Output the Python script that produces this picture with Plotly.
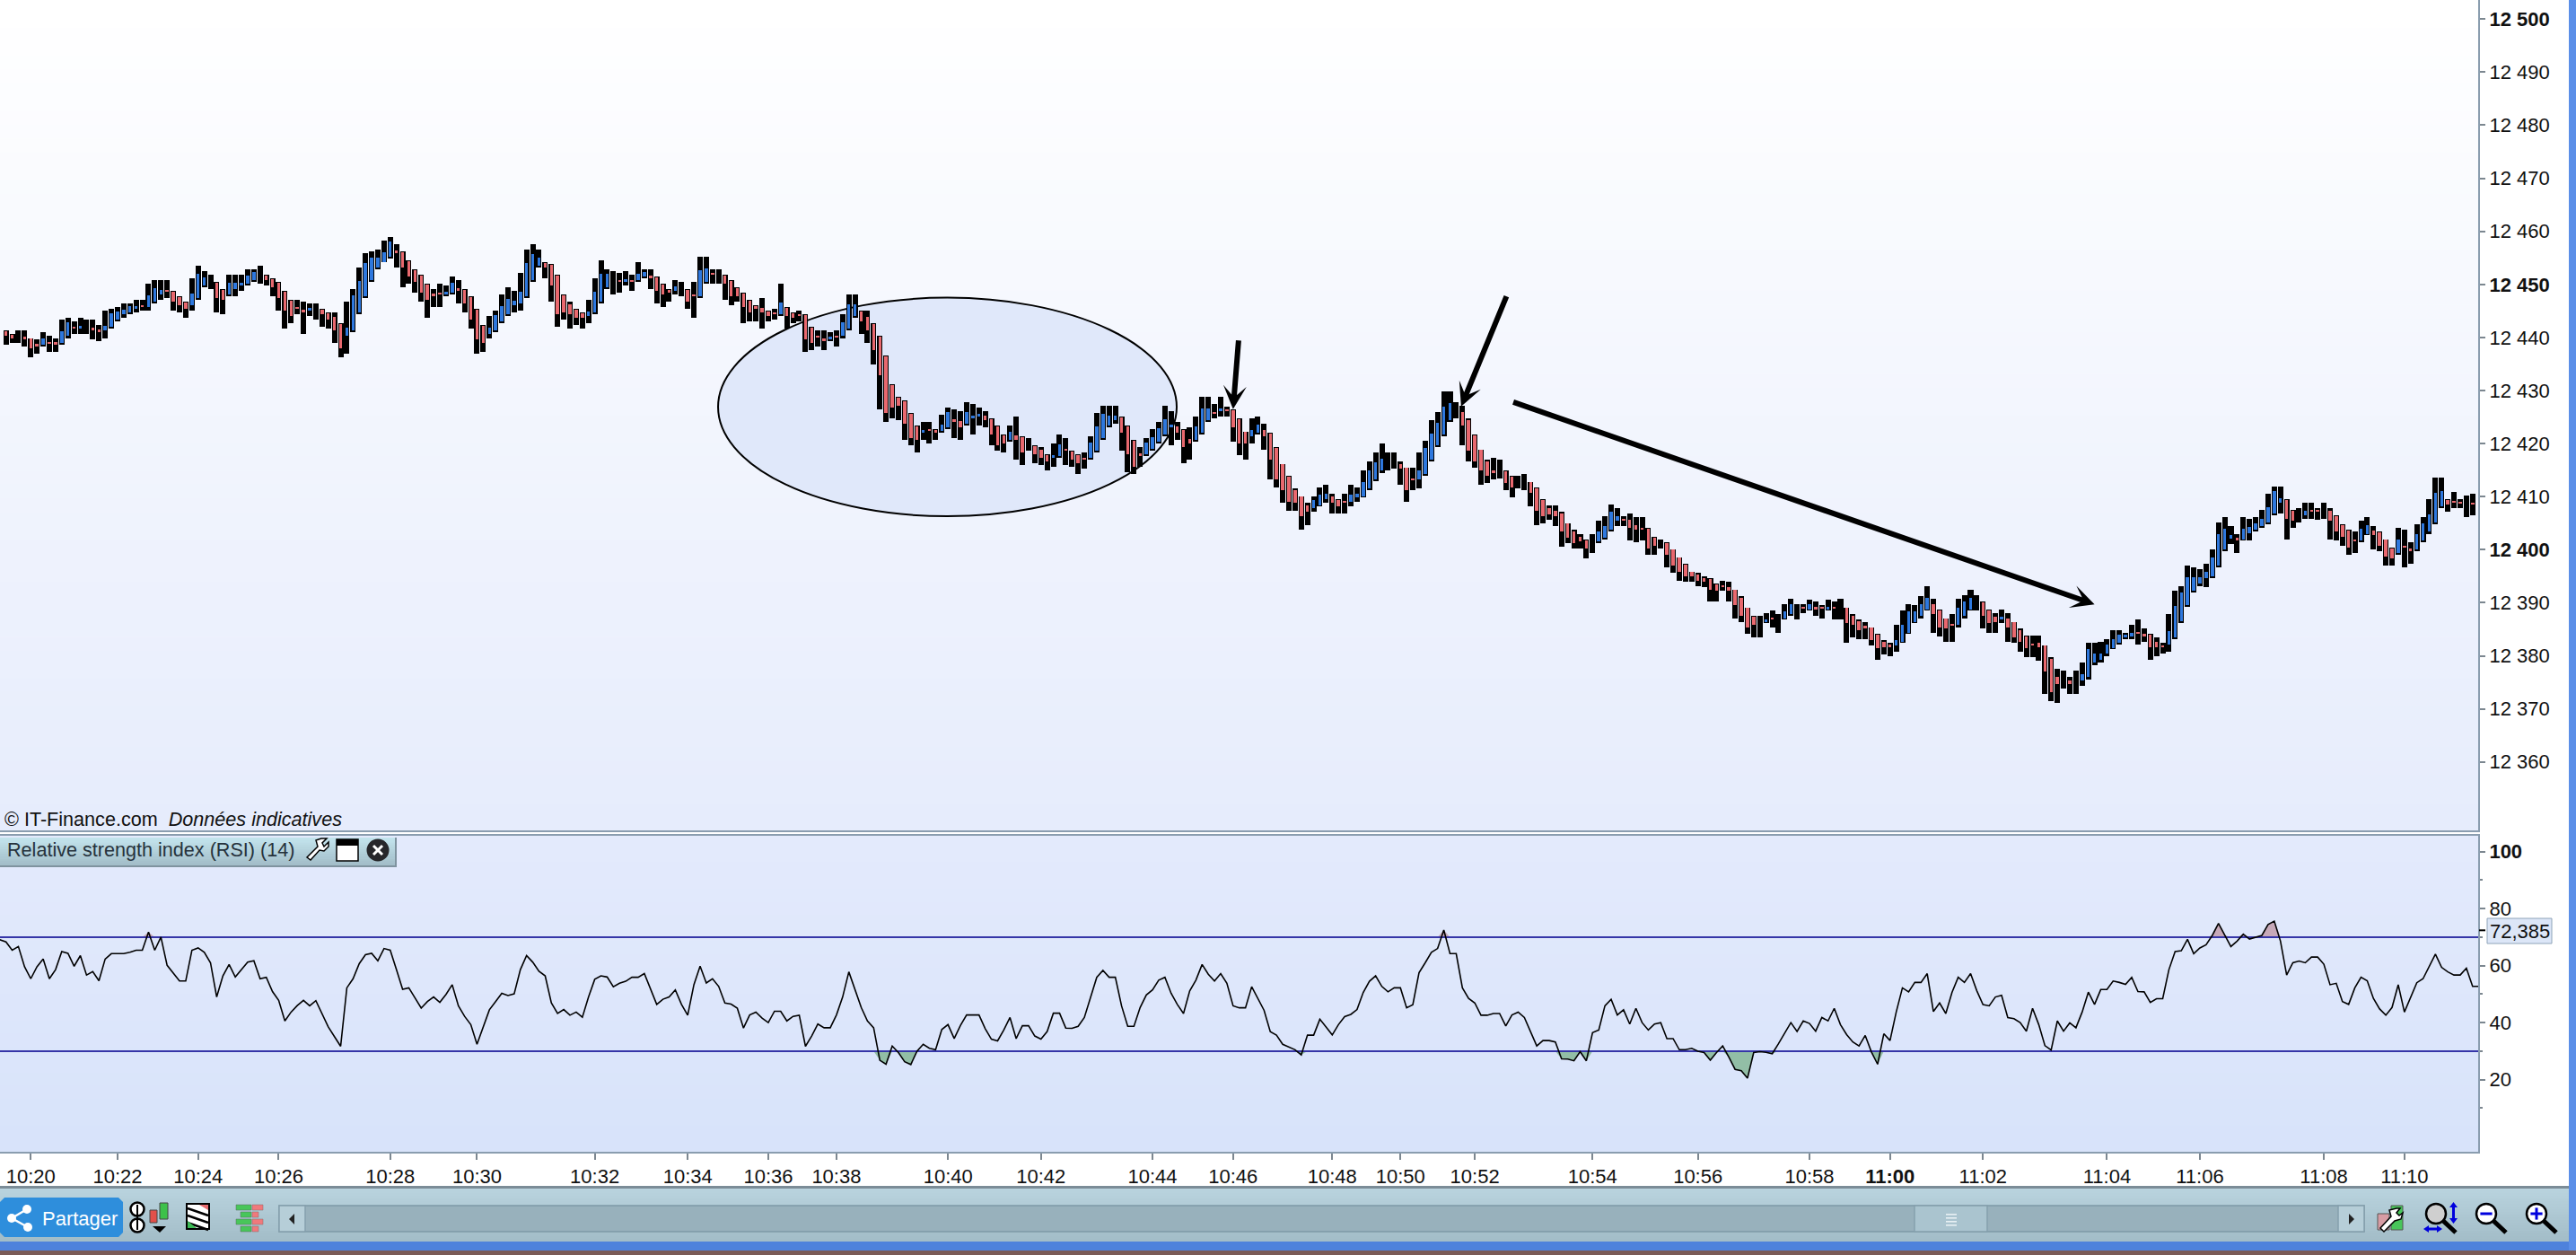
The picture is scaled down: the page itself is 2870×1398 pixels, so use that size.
"""Intraday price chart with RSI pane, redrawn from a screenshot."""
import numpy as np
import plotly.graph_objects as go
from plotly.subplots import make_subplots

W, H = 2870, 1398
BASE = 12400

# prices are stored as points above/below BASE
bar_high = [
    41.3,40.6,41.3,41.3,39.9,39.6,41,40.3,39.9,43.3, 43.7,43,43.7,43.3,43.3,42.3,45,45.4,45.7,46.4,
    46.4,47.1,47.1,50.1,50.8,50.8,50.8,48.8,47.7,46.7, 51.1,53.5,52.5,51.8,50.5,49.1,51.8,51.8,51.8,52.8,
    52.8,53.5,51.8,51.1,50.5,48.8,47.1,47.1,46.7,46.4, 46.4,45.4,44.7,44.7,42.7,46.7,49.1,53.2,55.9,56.2,
    56.6,58.3,58.9,57.6,56.2,54.5,52.8,51.8,50.1,49.1, 50.1,49.8,51.5,50.8,49.1,47.7,45.4,42.3,44,45,
    48.1,49.4,48.8,52.2,56.6,57.6,56.6,54.2,53.8,51.8, 48.1,46.7,45.4,44.7,47.1,51.1,54.5,52.8,52.5,52.2,
    52.5,51.8,54.2,52.8,52.8,51.5,50.1,49.1,50.8,50.5, 49.1,50.5,55.2,55.2,52.8,52.8,51.8,50.8,49.4,48.4,
    47.1,46.1,47.4,45,45.4,50.1,45.7,44.7,45,44.4, 42,41.3,41.3,41,41.3,44.4,48.1,48.1,45,45,
    42.7,40.3,36.6,31.2,28.8,28.1,25.8,23.4,24.1,24.1, 22.7,25.4,26.8,26.4,26.1,27.8,27.5,26.8,26.1,24.8,
    23.4,21.7,23.4,25.1,21.4,21,19.7,19.3,18,20, 21.7,21,18.6,18,18.3,21.4,25.8,27.1,27.1,27.1,
    25.1,23.4,20.7,19.3,21,22.7,24.1,27.1,26.1,24.1, 22.7,23,25.1,28.8,28.8,27.5,28.8,27,26.4,24.7,
    22.3,24.7,25.1,23.7,22,19.3,16.2,13.9,11.5,10.1, 8.8,10.1,11.8,12.2,10.5,9.5,10.5,12.2,11.8,14.9,
    16.6,18.3,20,18.3,18.3,16.6,15.5,15.5,18.3,20.6, 24.4,26,29.8,29.8,27.8,27.1,24.7,21.7,18.9,16.9,
    17.3,16.9,14.9,13.9,13.9,14.2,12.8,11.8,9.5,8.4, 8.4,7.1,5,3.7,3,2,3,5.4,6.4,8.5,
    7.8,6.4,6.8,6.1,6.1,4.1,2.4,2,1.4,0, -1.4,-2.7,-4.1,-4.4,-5.1,-5.4,-6.4,-5.8,-6.1,-7.5,
    -8.8,-10.9,-12.5,-12.5,-11.9,-11.5,-12.2,-10.2,-9.2,-10.2, -10.2,-9.5,-9.8,-10.5,-9.5,-9.8,-9.2,-10.9,-12.2,-13.2,
    -13.6,-14.6,-15.9,-17,-17.6,-14.2,-11.5,-10.2,-10.5,-8.8, -6.8,-9.2,-11.2,-12.9,-12.2,-9.2,-8.5,-7.5,-8.5,-9.8,
    -11.2,-11.9,-11.2,-11.9,-13.6,-14.9,-16.2,-16.2,-16.2,-18, -20.3,-22.4,-22.7,-24,-22.7,-21.3,-17.6,-17.6,-17.3,-16.9,
    -15.2,-15.2,-15.6,-14.2,-13.2,-14.9,-15.9,-16.6,-17.6,-12.2, -7.8,-6.8,-3,-3.4,-3.7,-2.7,0,5.1,6.1,4.4,
    3,6.1,5.8,6.1,7.5,10.5,11.9,11.9,9.5,7.5, 7.8,8.8,8.8,7.8,8.8,7.8,6.5,4.8,3.8,3.4,
    5.5,6.1,4.4,3.4,2,0.4,4.1,3.8,1.4,4.8, 6.1,9.5,13.6,13.6,9.5,10.9,9.5,10.2,10.5,
]
bar_low = [
    38.6,38.9,38.9,38.3,36.2,36.9,38.3,37.2,37.2,38.6, 39.9,40.6,40.6,40.6,39.6,39.3,39.9,41.6,43,43.7,
    44.4,44.7,45,45,46.4,47.1,47.4,45,44.7,43.7, 45,47.1,49.4,49.1,44.7,44.4,47.7,47.7,48.8,49.8,
    50.5,50.1,49.8,47.7,45,41.6,42.7,44.4,40.6,44, 43.3,42,41.6,38.9,36.2,36.9,41,44.4,47.4,50.5,
    52.8,54.2,54.9,53.2,49.4,50.1,48.4,46.7,43.7,45.7, 45.7,47.7,48.1,46.4,44.7,41.6,36.9,37.2,39.9,41,
    42.7,44,44.7,45,47.4,50.5,53.2,51.1,46.7,42, 43.3,41.6,42.3,41.6,42.7,44.4,46.4,49.1,48.1,48.4,
    49.8,48.8,50.5,51.1,49.1,46.4,45.7,46.7,48.1,47.7, 45.4,43.7,47.4,50.1,50.1,50.1,47.1,46.1,46.7,42.7,
    43,43,41.6,43,43.3,44,41.6,42.7,43,37.2, 37.6,38.3,37.6,39.3,38.3,39.9,41.3,43.7,40.6,38.9,
    34.9,26.4,24.1,24.8,24.4,20.7,19.7,18.3,20.7,20, 20.7,22,22.7,21,20.7,23.4,21.7,23.4,23,19.7,
    18.6,18.3,20.3,17,16,18.7,16.3,16,14.9,15.6, 17.3,16,15.6,14.2,15.3,17,18.3,20.7,23,23.7,
    18.6,14.6,14.2,15.6,17.6,18.6,20,21.4,19.7,20.7, 16.3,17,20.3,21.7,24.1,24.8,25.1,25.1,20.3,17.9,
    16.9,20,21.7,18.9,13.2,11.8,8.8,7.4,7.4,3.7, 4.7,7.1,8.1,8.8,6.8,6.8,6.8,8.1,9.1,9.8,
    11.2,12.9,14.5,14.9,15.2,12.2,9.1,11.2,11.5,13.9, 16.6,19.3,21.3,24,24.7,19.6,16.6,15.5,12.2,12.5,
    13.2,13.5,11.2,9.8,11.5,11.2,8.1,4.7,5,5.7, 4.4,0.6,1.3,0.3,0.3,-1.7,-0.7,1.2,2,3.4,
    4.4,4.4,1.7,1.4,1.7,-1,-1,0.3,-3.4,-4.4, -5.8,-6.1,-6.1,-6.8,-7.1,-9.8,-9.8,-7.8,-9.8,-12.9,
    -13.6,-15.9,-16.6,-16.6,-13.9,-14.6,-15.6,-13.2,-12.5,-13.2, -11.9,-11.5,-12.5,-12.9,-11.5,-13.2,-13.2,-17.6,-16.6,-16.9,
    -16.9,-18,-20.7,-19.7,-20,-19.3,-17.6,-15.9,-13.9,-12.9, -11.5,-15.6,-16.3,-17.3,-17.3,-14.6,-12.9,-11.5,-11.5,-14.9,
    -15.6,-15.6,-13.9,-17.3,-17.6,-19.3,-20.3,-20.3,-21,-27.1, -28.5,-28.8,-26.1,-27.1,-27.1,-25.7,-24.4,-21.7,-21.3,-20,
    -18.8,-17.9,-16.9,-16.9,-17.9,-17.3,-20.7,-20,-19.6,-19.3, -16.9,-13.9,-10.8,-8.1,-6.8,-7.1,-5.4,-3.4,-0.3,1,
    -0.7,1.7,1.7,3.4,4.1,4.8,6.5,6.8,2,4.1, 5.1,5.8,5.8,5.6,5.8,2,1.7,0.7,-1,-0.7,
    1.4,2.7,0,-0.3,-3,-3,-1,-3.4,-2.7,-0.3, 1.4,3,4.8,7.8,7.1,7.8,7.8,6.1,6.5,
]
bar_open = [
    41.1,40.5,40.1,40.1,39.8,38.8,38.6,39.1,39.1,38.9, 40.3,41.9,41.6,41.8,41.8,41.5,41.3,42,43.3,44.4,
    44.7,45.4,46,45.7,46.7,48.1,48.9,48.6,47.6,46.6, 46.1,47.4,49.8,50.5,50.3,48.9,48.1,49.1,49.8,50.1,
    50.8,51.8,51.6,51,50.3,48.6,46.9,45.6,45.2,45, 45,45.2,44.5,43.8,42.5,40.3,41.3,44.7,47.7,50.8,
    53.2,54.2,55.2,56.4,56.1,54.4,52.7,51.6,49.9,48.3, 48.4,48.1,48.4,49.3,48.9,47.6,45.2,42.2,40.6,41.3,
    43,44.4,46.1,46.4,47.7,50.8,53.5,54,53.7,51.6, 47.9,46.2,45.2,44.5,44,44.7,46.7,49.4,50.5,50.7,
    50.5,50.7,50.8,51.5,51.6,51.3,49.9,48.9,48.8,49, 48.9,48,47.7,50.5,52.1,51.5,51.6,50.6,49.3,48.3,
    46.9,45.9,45.5,44.9,44.6,44.4,45.5,44.5,44.3,44.2, 41.8,40.2,39.8,39.6,40.2,40.3,41.6,44,44.9,43.8,
    42.5,40.2,36.4,31,28.6,28,25.6,23.2,22,22.6, 22.5,22.4,23,24.6,24.2,23.7,24.8,25.1,25.3,24.6,
    23.2,21.5,20.7,21.5,21.2,20,19.5,18.8,17.8,17.3, 17.6,18.9,18.5,17.8,17.2,17.3,18.6,21,23.4,24.4,
    24.9,23.2,20.5,18.1,18,19,20.3,21.7,23,23.2, 22.5,20.9,20.7,22,24.4,25.9,26.1,26.4,26.3,24.6,
    22.2,21.3,22,22.5,21.8,19.1,16.1,13.7,11.3,10, 8.3,7.8,8.4,9.5,10,9.3,9.1,9.1,9.8,10.1,
    11.5,13.2,14.9,16.5,16.7,16.1,15.4,13.4,13.2,14.2, 16.9,19.6,21.7,24.4,26,25.9,24.5,21.5,18.8,16.7,
    15,15,14.7,13.7,12.7,12.7,12.7,11.6,9.3,7.9, 7.3,6.9,4.9,3.5,2.5,1.8,1,1.5,2.3,3.7,
    5.4,5.7,5.6,4.6,4.2,3.9,2.2,1.1,1.2,0, -1.5,-2.9,-4.2,-4.6,-5.3,-5.6,-6.6,-6.8,-7,-7.6,
    -9,-11,-12.7,-14.5,-13.6,-12.9,-13.9,-12.9,-12.2,-11.7, -10.9,-11.2,-10.7,-10.9,-11.2,-10.9,-11,-11,-12.4,-13.4,
    -14.4,-14.7,-16.1,-17.4,-17.8,-18,-17.3,-15.6,-13.6,-12.5, -11.2,-10.3,-11.4,-13,-14,-14.2,-12.5,-11.2,-10,-10,
    -11.4,-12.7,-13.2,-13,-13.7,-15.1,-16.4,-17.7,-17.6,-18.1, -20.5,-23.9,-24.4,-24.6,-25,-24.7,-24,-21.3,-20.7,-19.6,
    -18.6,-17.6,-16.6,-16.3,-15.5,-15.8,-16.1,-17.4,-18.1,-17.9, -16.6,-13.5,-10.5,-7.8,-6.4,-5.4,-5.1,-3,0,2.1,
    2.2,2,3.1,3.8,4.4,5.1,6.8,8.8,9.4,7.3, 6.5,6.5,7.4,7.4,7.3,7.3,6.3,4.6,3.6,1.9,
    1.7,3,3.6,3.2,1.9,0.2,-0.7,0.6,0.2,0, 1.7,3.4,5.1,8.1,9.4,9.1,8.9,8.2,8.8,
]
bar_close = [
    40.3,39.8,40.1,39.6,37.9,38.3,39.8,38.9,38.6,41.1, 42.8,41.7,42.2,41.8,41.3,41,42.2,44.5,44.9,45.2,
    45.9,45.9,45.8,47.9,49.3,48.9,48.7,46.7,46.1,45.4, 48.3,52,51.3,50.5,47.4,47.1,50.3,50.3,50.3,51.6,
    52.3,51.8,50.8,49.4,47.4,45,44,45.4,44.7,45.5, 45,44.4,43.3,41.3,37.9,41.8,47.9,50.6,54,55,
    55,56.1,58.1,55.9,53.2,51.5,50.5,48.4,47.1,47.7, 48.2,48.6,50.3,48.8,46.4,43.3,39.6,38.9,41.8,44.2,
    45.9,47.2,46.9,48.6,54,55.7,55,53.2,49.8,44.4, 44.7,44.4,43.7,43.7,44.9,48.6,52,52,50.5,50.5,
    51,50.5,52,52.3,51.1,48.8,48.1,48.4,49.6,49, 46.7,47.8,52.7,53,51.9,51.5,50.1,47.7,47.7,45.7,
    44.7,45.4,44.7,44,44.4,46.6,44,43.7,44.1,39.6, 38.9,40,39.3,40.1,40,42.8,46.2,46.2,43,41.3,
    37.6,32.9,25.8,26.8,27.1,23.7,21,20.7,22.5,22.4, 22,23.6,25.9,24.1,23,26,25.3,25.6,24.4,21.7,
    19.7,20,22.2,20.7,18.3,20,18,17.3,16.6,17.8, 19.8,18.7,17,16.3,17,20.2,23.2,25.6,25.3,25.3,
    22,18,15.6,17.6,20.2,21.2,22.9,24.6,23.6,22, 19.3,20,23.2,26.6,26.6,25.7,26.6,26.2,23,20,
    20,22.5,23.5,21.3,16.9,13.2,11.2,9.1,8.8,6.4, 7.1,9.3,10.3,10.6,8.8,8.1,8.9,10.3,10.5,12.7,
    15,16.4,17.1,16.5,16.7,15.2,11.2,13.2,15,19.1, 21.8,23.9,26.9,27.6,26,23.4,18.6,16.6,14.9,13.9,
    14.5,15,12.5,11.8,12.7,12.7,10.8,7.4,6.4,6.7, 6.4,3.4,2.3,1.3,1.6,0.3,1,3.5,4.5,7.2,
    6.3,5.5,4.1,3.7,3.7,0.3,0.7,1.1,-1,-3, -4.1,-5.1,-5.1,-5.8,-6.1,-7.5,-7.8,-7,-7.8,-10.5,
    -12.5,-14.6,-14.2,-14.5,-13.1,-13.1,-13.9,-11.7,-10.3,-11.7, -11.1,-10.3,-11.2,-11.1,-10.7,-11.1,-11,-13.9,-14.2,-15.2,
    -14.9,-17,-18.6,-18.3,-18.3,-17.1,-14.1,-11.7,-11.7,-10.3, -9,-12.2,-14.6,-14.9,-14.2,-11,-9.7,-9,-10,-12.5,
    -13.9,-13.6,-12.7,-14.6,-16.6,-17.4,-18.6,-17.9,-18.3,-23, -26.8,-25.4,-24.4,-25.4,-25,-23.5,-18.8,-19.5,-19.5,-17.8,
    -16.8,-16.1,-16,-15.6,-15.7,-16.3,-18.3,-18.3,-18.3,-15.4, -10.6,-8,-5.2,-5.2,-5.2,-4.2,-1.5,2.9,3.9,2.7,
    1.7,3.9,4.3,4.9,5.8,8,11,9.7,5.8,5.5, 6.5,7.3,7.2,7.2,7.3,5.4,3.4,2.4,0.4,1.7,
    3.9,4.6,2.7,0.7,-1.3,-1.7,1.9,0.4,-0.3,2.9, 4.9,6.6,10.7,11,8.5,8.9,8.7,8.2,8.6,
]

rsi_line = [
    69.1,68.3,65.4,66.7,59.6,55.4,59.6,62.3,55.4,58.6, 64.9,64.3,59.8,63.5,56.7,57.9,54.7,62.3,64.2,64.2,
    64.2,64.7,65.4,65.4,71.8,65.4,70,60.1,57.3,54.6, 54.6,65.4,66.2,64.7,61,49,56.4,60.4,56,58.6,
    61.2,61.7,55.4,55.9,50.9,47.8,40.6,43.7,46,47.8, 45.9,47.7,43.2,38.5,35.1,31.7,52.2,55.4,60.7,63.8,
    64.3,61.7,66,65.4,58.6,51.7,52.2,48.7,45.1,47.4, 49,47.1,49.9,53.3,45.9,42.2,39.3,32.4,38.5,44.5,
    47.4,50.3,49.5,50.1,58.6,63.5,61.2,58,56.4,46.9, 43.2,44.6,42.6,43.7,41.9,49,55.2,56.4,56,52.6,
    53.8,54.5,55.9,55.9,57.2,51.7,46.4,48.2,49,51.5, 46.4,42.6,53.3,59.8,53.9,55.4,52.7,46.9,46.5,45.1,
    38.1,42.7,43.7,41.6,40,44,44,40.6,42.2,42.6, 31.7,35.3,39.5,38.2,38.2,42.7,49,57.8,51.2,45.3,
    40.6,38.2,26.8,25.4,31.8,
    29.5,26.3,25.3,30,32.4,31,30.5,37.6,39.3,34.4, 39,42.7,42.7,42.7,37.9,34.2,33.6,37.4,41.8,34.4,
    38.9,38.9,35.3,34.2,36.9,43.3,43.3,38.1,38,38.7, 41.8,49,55.9,58.3,55.9,55.9,45.9,38.7,38.7,45.3,
    49.7,51.5,54.9,55.9,50.3,46.4,43.2,51.1,54.9,60.4, 57,54.6,57.2,53.8,45.9,45.2,45.2,52.6,48.5,44.3,
    36.8,35.6,32.4,31.4,30.5,28.7,35.6,35.6,41.2,38.5, 35.7,39.3,42.1,42.9,44.6,50.6,54.5,56.4,52.7,50.8,
    52.2,52.2,45.2,46.3,57.5,61,64.7,66,72.5,64.2, 64.2,52.2,48.5,46.9,42.6,42.6,43.2,43.2,38.8,42.7,
    43.7,41.8,36.9,31.8,33.7,33.7,33.2,27.3,27.2,26.6, 29.8,26.6,36.5,37.4,45.9,48.2,42.7,44.5,39.5,45,
    40,37.4,39.5,40,34.4,34.4,30.5,30.5,31,30, 29.5,26.8,29.5,31.8,27.9,23.6,23.1,20.5,29.5,29.8,
    29.6,29.1,32.6,36.1,40,
    36.9,40.6,39.7,37,41.8,40.6,45,39.3,35.8,33.2, 31.8,35.5,29.7,25.4,36.1,33.7,43.7,52.2,50.8,54.1,
    54.1,57.2,43.9,46.9,43.2,50.6,55.9,54.1,57.2,51.2, 46.3,45.9,49,49.6,41.8,41.4,40,37,45,39.3,
    31.9,30.4,40.6,37,39.9,38.2,43.7,50.7,46.4,51.6, 51.6,54.6,54.1,53.4,55.9,50.9,50.8,47.1,48.4,48.4,
    58.6,64.9,65.2,69.2,64.2,66.2,67.3,70.6,74.8,70.7, 66.7,68.6,71,69.3,70,70.6,74.4,75.6,68.6,56.7,
    61,61.6,61,63,63,60.5,53.3,53.8,47.4,46.4, 52.2,55.9,54.7,48.5,44.8,42.6,45.3,53.3,43.7,49,
    54,55.4,59.6,64,59.4,57.8,56.7,56.7,59.1,52.7, 52.7,
]
rsi_upper = 70
rsi_lower = 30
rsi_cursor = 72.385

time_bar = [5, 19, 32, 45, 63, 77, 96, 111, 124, 135, 153, 168, 186, 199, 215, 226, 238, 257, 274, 292, 305, 320,
            340, 355, 375, 388]
time_text = ["10:20", "10:22", "10:24", "10:26", "10:28", "10:30", "10:32", "10:34", "10:36", "10:38", "10:40",
             "10:42", "10:44", "10:46", "10:48", "10:50", "10:52", "10:54", "10:56", "10:58", "<b>11:00</b>",
             "11:02", "11:04", "11:06", "11:08", "11:10"]
price_ticks = [12360, 12370, 12380, 12390, 12400, 12410, 12420, 12430, 12440, 12450, 12460, 12470, 12480, 12490, 12500]
price_text = ["12 360", "12 370", "12 380", "12 390", "<b>12 400</b>", "12 410", "12 420", "12 430", "12 440",
              "<b>12 450</b>", "12 460", "12 470", "12 480", "12 490", "<b>12 500</b>"]
rsi_ticks = [20, 40, 60, 80, 100]
rsi_text = ["20", "40", "60", "80", "<b>100</b>"]

# drawn annotations: (tip bar, tip price, tail bar, tail price, width)
arrow_marks = [(199, 12426.5, 199.9, 12439.7, 6), (235.8, 12427, 243.2, 12448, 6), (338, 12389.7, 244, 12427.9, 6)]
zone_bars = (115.9, 189.9)
zone_prices = (12406.3, 12447.5)

FONT = "Liberation Sans"
AXIS_LINE = "#8A9DAF"
TICK = "#7C8790"
RED = "#E8686E"
BLUE = "#2E78DE"

high = np.array(bar_high) + BASE
low = np.array(bar_low) + BASE
opens = np.array(bar_open) + BASE
close = np.array(bar_close) + BASE
bars = np.arange(1, len(high) + 1)
rsi = np.array(rsi_line)
rsi_x = np.arange(len(rsi))

shapes = []


def px(x):
    return x / W


def py(y):
    return 1 - y / H


def hex_mix(c0, c1, t):
    a = [int(c0[i:i + 2], 16) for i in (1, 3, 5)]
    b = [int(c1[i:i + 2], 16) for i in (1, 3, 5)]
    return "#" + "".join(f"{round(u + (v - u) * t):02x}" for u, v in zip(a, b))


def rect(x0, y0, x1, y1, fill, line=None, lw=1, layer="above"):
    shapes.append(dict(type="rect", xref="paper", yref="paper", x0=px(x0), x1=px(x1), y0=py(y0), y1=py(y1),
                       fillcolor=fill, line=dict(color=line or fill, width=lw if line else 0), layer=layer))


def gradient(x0, y0, x1, y1, c0, c1, steps, layer="above"):
    for k in range(steps):
        ya = y0 + (y1 - y0) * k / steps
        yb = y0 + (y1 - y0) * (k + 1) / steps
        rect(x0, ya, x1, yb + 0.6, hex_mix(c0, c1, k / (steps - 1)), layer=layer)


def circle(cx, cy, r, fill, line=None, lw=1):
    shapes.append(dict(type="circle", xref="paper", yref="paper", x0=px(cx - r), x1=px(cx + r), y0=py(cy + r),
                       y1=py(cy - r), fillcolor=fill, line=dict(color=line or fill, width=lw if line else 0)))


def poly(points, fill=None, line=None, lw=1, closed=True):
    path = "M " + " L ".join(f"{px(a):.5f} {py(b):.5f}" for a, b in points) + (" Z" if closed else "")
    shapes.append(dict(type="path", xref="paper", yref="paper", path=path, fillcolor=fill or "rgba(0,0,0,0)",
                       line=dict(color=line or "rgba(0,0,0,0)", width=lw)))


def magnifier(cx, cy, r, mark=None, fill="#FFFFFF"):
    poly([(cx + r * 0.7, cy + r * 0.7), (cx + 22, cy + 21)], line="#000000", lw=5, closed=False)
    circle(cx, cy, r, fill, "#000000", 2.5)
    if mark:
        rect(cx - r * 0.6, cy - 1.5, cx + r * 0.6, cy + 1.5, "#0000DD")
    if mark == "+":
        rect(cx - 1.5, cy - r * 0.6, cx + 1.5, cy + r * 0.6, "#0000DD")


def chrome():
    # pane backgrounds
    gradient(0, 0, 2761, 925, "#FFFFFF", "#E6ECFC", 60, layer="below")
    gradient(0, 931, 2761, 1283, "#E3EAFC", "#D8E3FA", 24, layer="below")

    # RSI header
    gradient(0, 933, 441, 964, "#C2E3EC", "#A3BEC9", 12)
    rect(0, 964, 441, 966, "#7F939F")
    rect(440, 933, 442, 966, "#7F939F")
    poly([(342, 955), (354, 943), (352, 936), (358, 934), (364, 934), (359, 939), (361, 943), (366, 938), (366, 943),
          (361, 948), (356, 947), (346, 958)], "#FFFFFF", "#000000", 1.5)
    rect(375, 935, 399, 959, "#FFFFFF", "#000000", 1.5)
    rect(375, 935, 399, 942, "#000000")
    circle(421, 947, 12.5, "#26262A")
    poly([(416, 942), (426, 952)], line="#FFFFFF", lw=3, closed=False)
    poly([(426, 942), (416, 952)], line="#FFFFFF", lw=3, closed=False)

    # cursor tick on the RSI scale
    shapes.append(dict(type="line", xref="paper", yref="y2", x0=px(2762), x1=px(2769), y0=rsi_cursor, y1=rsi_cursor,
                       line=dict(color="#000000", width=2)))
    rect(2771, 1023, 2843, 1051, "#DCE6F7", "#8EA3B8", 1)

    # bottom toolbar and window frame
    gradient(0, 1323, 2862, 1383, "#B9D3DE", "#A3BDC8", 20)
    rect(0, 1321, 2862, 1324, "#7B8C97")
    rect(0, 1383, 2870, 1393, "#4E82DC")
    rect(0, 1393, 2870, 1398, "#7A5A56")
    rect(2862, 0, 2870, 1393, "#5B8FE8")

    # scroll bar
    rect(311, 1343, 2634, 1372, "#98B1BC", "#7E99A6", 1.5)
    rect(311, 1343, 340, 1372, "#B6CED8", "#85A0AD", 1.5)
    poly([(322, 1358), (328, 1352), (328, 1364)], "#222222")
    rect(2605, 1343, 2634, 1372, "#B6CED8", "#85A0AD", 1.5)
    poly([(2623, 1358), (2617, 1352), (2617, 1364)], "#222222")
    rect(2133, 1343, 2214, 1372, "#AAC4CF", "#85A0AD", 1.5)
    for y in (1352, 1356, 1360, 1364):
        rect(2168, y, 2180, y + 1.6, "#E8F0F4")

    # share button
    poly([(5, 1334), (132, 1334), (137, 1339), (137, 1373), (132, 1378), (5, 1378), (0, 1373), (0, 1339)], "#2E8EDC")
    poly([(13, 1357), (30, 1347)], line="#FFFFFF", lw=2.5, closed=False)
    poly([(13, 1357), (31, 1367)], line="#FFFFFF", lw=2.5, closed=False)
    circle(13, 1357, 5, "#FFFFFF")
    circle(30, 1347, 5, "#FFFFFF")
    circle(31, 1367, 5, "#FFFFFF")

    # chart type icons
    circle(153, 1347, 7.5, "#FFFFFF", "#000000", 2.5)
    circle(153, 1365, 7.5, "#FFFFFF", "#000000", 2.5)
    rect(152, 1342, 154, 1370, "#000000")
    rect(167, 1348, 175, 1362, "#E2504A", "#444444", 1)
    rect(178, 1340, 187, 1358, "#3DC14A", "#444444", 1)
    poly([(170, 1366), (185, 1366), (178, 1373)], "#000000")
    rect(208, 1341, 233, 1369, "#FFFFFF", "#000000", 2)
    for k in (0, 8, 16):
        poly([(209, 1346 + k), (232, 1354 + k)], line="#000000", lw=2.5, closed=False)
    poly([(222, 1342), (232, 1342), (232, 1348)], "#E86C70")
    poly([(209, 1368), (209, 1360), (219, 1368)], "#3DBB55")
    for k, (ga, gb) in enumerate([(263, 280), (268, 280), (263, 280), (268, 280)]):
        y = 1342 + k * 8
        rect(ga, y, gb, y + 6, "#48C65A", "#5A6A60", 0.5)
        rect(gb + 1, y, 293 - (k % 2) * 5, y + 6, "#F0797C", "#8A6A6A", 0.5)

    # right hand icons
    rect(2649, 1352, 2662, 1370, "#D79CA4", "#555555", 1)
    rect(2664, 1343, 2677, 1370, "#48C65A", "#555555", 1)
    poly([(2652, 1368), (2664, 1355), (2662, 1348), (2670, 1346), (2674, 1346), (2670, 1351), (2673, 1354),
          (2677, 1351), (2675, 1358), (2668, 1360), (2656, 1372)], "#FFFFFF", "#000000", 1.5)
    magnifier(2714, 1352, 11, fill="#CFCFCF")
    poly([(2733.5, 1342), (2733.5, 1360)], line="#0000DD", lw=3, closed=False)
    poly([(2733.5, 1339), (2729, 1345), (2738, 1345)], "#0000DD")
    poly([(2733.5, 1363), (2729, 1357), (2738, 1357)], "#0000DD")
    poly([(2703, 1369), (2718, 1369)], line="#0000DD", lw=3, closed=False)
    poly([(2700, 1369), (2706, 1365), (2706, 1373)], "#0000DD")
    poly([(2721, 1369), (2715, 1365), (2715, 1373)], "#0000DD")
    magnifier(2770, 1352, 11, "-")
    magnifier(2826, 1352, 11, "+")


chrome()

# the shaded zone sits under the bars
shapes.append(dict(type="circle", xref="x", yref="y", x0=zone_bars[0], x1=zone_bars[1], y0=zone_prices[0],
                   y1=zone_prices[1], fillcolor="#E0E8FA", line=dict(color="#000000", width=2), layer="below"))

fig = make_subplots(rows=2, cols=1)

# thick black wick with a narrow coloured body inside it
fig.add_trace(go.Bar(x=bars, y=high - low, base=low, width=0.87, marker=dict(color="#000000", line=dict(width=0))),
              row=1, col=1)
body_colors = [BLUE if c > o else RED for o, c in zip(opens, close)]
fig.add_trace(go.Bar(x=bars, y=np.abs(close - opens), base=np.minimum(opens, close), width=0.5,
                     marker=dict(color=body_colors, line=dict(width=0))), row=1, col=1)

# RSI excursions beyond the bands
fig.add_trace(go.Scatter(x=rsi_x, y=[rsi_upper] * len(rsi), mode="lines", line=dict(width=0)), row=2, col=1)
fig.add_trace(go.Scatter(x=rsi_x, y=np.maximum(rsi, rsi_upper), mode="lines", line=dict(width=0), fill="tonexty",
                         fillcolor="#C7A9B8"), row=2, col=1)
fig.add_trace(go.Scatter(x=rsi_x, y=[rsi_lower] * len(rsi), mode="lines", line=dict(width=0)), row=2, col=1)
fig.add_trace(go.Scatter(x=rsi_x, y=np.minimum(rsi, rsi_lower), mode="lines", line=dict(width=0), fill="tonexty",
                         fillcolor="#92BEA6"), row=2, col=1)
for level in (rsi_upper, rsi_lower):
    fig.add_trace(go.Scatter(x=[0, 400], y=[level, level], mode="lines", line=dict(color="#3636A8", width=2)),
                  row=2, col=1)
fig.add_trace(go.Scatter(x=rsi_x, y=rsi, mode="lines", line=dict(color="#000000", width=1.6)), row=2, col=1)

x_range = [0.034, 399.9]
x_domain = [0, 2761 / W]
fig.update_xaxes(range=x_range, domain=x_domain, showgrid=False, zeroline=False)
fig.update_xaxes(showticklabels=False, ticks="", showline=True, linecolor=AXIS_LINE, linewidth=2, row=1, col=1)
fig.update_xaxes(tickmode="array", tickvals=time_bar, ticktext=time_text, ticks="outside", ticklen=7, tickcolor=TICK,
                 tickwidth=1.5, showline=True, linecolor=AXIS_LINE, linewidth=2, mirror=True,
                 tickfont=dict(family=FONT, size=22, color="#111111"), row=2, col=1)
fig.update_yaxes(side="right", showgrid=False, zeroline=False, showline=True, linecolor=AXIS_LINE, linewidth=2,
                 tickmode="array", ticks="outside", ticklen=6, tickcolor=TICK, tickwidth=1.5,
                 tickfont=dict(family=FONT, size=22, color="#111111"))
fig.update_yaxes(domain=[py(925), 1], range=[12347.1, 12503.6], tickvals=price_ticks, ticktext=price_text,
                 row=1, col=1)
fig.update_yaxes(domain=[py(1283), py(931)], range=[-5.3, 105.55], tickvals=rsi_ticks, ticktext=rsi_text,
                 minor=dict(tickmode="array", tickvals=[10, 30, 50, 70, 90], ticks="outside", ticklen=3,
                            tickcolor=TICK, tickwidth=1.5), row=2, col=1)

annotations = [
    dict(xref="paper", yref="paper", x=px(3), y=py(912), xanchor="left", yanchor="middle", showarrow=False,
         text="© IT-Finance.com  <i>Données indicatives</i>", font=dict(family=FONT, size=21.6, color="#111111")),
    dict(xref="paper", yref="paper", x=px(6), y=py(947), xanchor="left", yanchor="middle", showarrow=False,
         text="Relative strength index (RSI) (14)", font=dict(family=FONT, size=21.6, color="#26323C")),
    dict(xref="paper", yref="paper", x=px(2807), y=py(1037), xanchor="center", yanchor="middle", showarrow=False,
         text=f"{rsi_cursor:.3f}".replace(".", ","), font=dict(family=FONT, size=22, color="#111111")),
    dict(xref="paper", yref="paper", x=px(45), y=py(1357), xanchor="left", yanchor="middle", showarrow=False,
         text="Partager", font=dict(family=FONT, size=22, color="#FFFFFF")),
]
for tip_x, tip_y, tail_x, tail_y, width in arrow_marks:
    annotations.append(dict(xref="x", yref="y", axref="x", ayref="y", x=tip_x, y=tip_y, ax=tail_x, ay=tail_y, text="",
                            showarrow=True, arrowhead=3, arrowsize=0.72, arrowwidth=width, arrowcolor="#000000",
                            standoff=0))

fig.update_layout(width=W, height=H, margin=dict(l=0, r=0, t=0, b=0), paper_bgcolor="#FFFFFF",
                  plot_bgcolor="rgba(0,0,0,0)", barmode="overlay", bargap=0, showlegend=False,
                  shapes=shapes, annotations=annotations)

fig.write_html("out.html", config={"displayModeBar": False},
               post_script="document.body.style.margin='0';document.body.style.overflow='hidden';")
